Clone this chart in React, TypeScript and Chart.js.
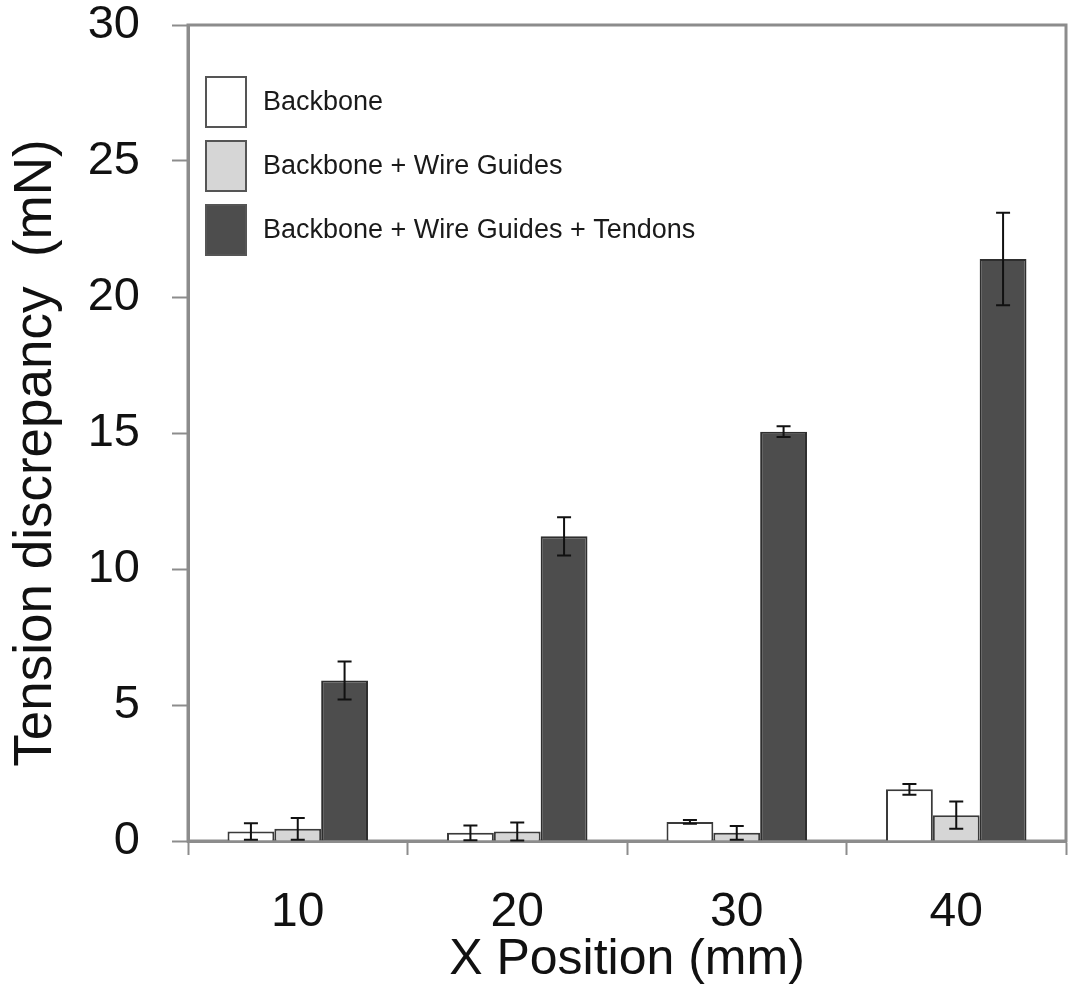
import React, { useEffect, useRef } from "react";
import { Chart, registerables } from "chart.js";

Chart.register(...registerables);

const categories = ["10", "20", "30", "40"];
const seriesLabels = [
  "Backbone",
  "Backbone + Wire Guides",
  "Backbone + Wire Guides + Tendons",
];
const backbone = [0.35, 0.3, 0.7, 1.9];
const backboneErr = [0.3, 0.27, 0.07, 0.2];
const wireGuides = [0.45, 0.35, 0.3, 0.95];
const wireGuidesErr = [0.4, 0.33, 0.25, 0.5];
const tendons = [5.9, 11.2, 15.05, 21.4];
const tendonsErr = [0.7, 0.7, 0.2, 1.7];
const yTicks = [0, 5, 10, 15, 20, 25, 30];
const yTitle = "Tension discrepancy  (mN)";
const xTitle = "X Position (mm)";

const FONT = "'Liberation Sans', Arial, sans-serif";
const FRAME = "#8c8c8c";

const errorBarPlugin = {
  id: "errorBars",
  afterDatasetsDraw(chart: any) {
    const ctx = chart.ctx;
    const y = chart.scales.y;
    chart.data.datasets.forEach((ds: any, i: number) => {
      const meta = chart.getDatasetMeta(i);
      meta.data.forEach((el: any, j: number) => {
        const v = ds.data[j];
        const e = ds.errors[j];
        const top = y.getPixelForValue(v + e);
        const bot = y.getPixelForValue(Math.max(0, v - e));
        ctx.save();
        ctx.strokeStyle = "#111";
        ctx.lineWidth = 2;
        ctx.beginPath();
        ctx.moveTo(el.x, top);
        ctx.lineTo(el.x, bot);
        ctx.moveTo(el.x - 7, top);
        ctx.lineTo(el.x + 7, top);
        ctx.moveTo(el.x - 7, bot);
        ctx.lineTo(el.x + 7, bot);
        ctx.stroke();
        ctx.restore();
      });
    });
  },
};

const framePlugin = {
  id: "frame",
  beforeDatasetsDraw(chart: any) {
    const { left, right, top, bottom } = chart.chartArea;
    const ctx = chart.ctx;
    ctx.save();
    ctx.strokeStyle = FRAME;
    ctx.lineWidth = 3;
    ctx.strokeRect(left, top, right - left, bottom - top);
    ctx.restore();
  },
};

const yTitlePlugin = {
  id: "yTitle",
  afterDraw(chart: any) {
    const ctx = chart.ctx;
    ctx.save();
    ctx.translate(36, 453);
    ctx.rotate(-Math.PI / 2);
    ctx.fillStyle = "#111";
    ctx.font = `53px ${FONT}`;
    ctx.textAlign = "center";
    ctx.textBaseline = "middle";
    ctx.fillText(yTitle, 0, 0);
    ctx.restore();
  },
};

const legendPlugin = {
  id: "insideLegend",
  afterDraw(chart: any) {
    const ctx = chart.ctx;
    const { left, top } = chart.chartArea;
    ctx.save();
    chart.data.datasets.forEach((ds: any, i: number) => {
      const cy = top + 77 + i * 64;
      const bx = left + 18;
      ctx.fillStyle = ds.backgroundColor;
      ctx.fillRect(bx, cy - 25, 40, 50);
      ctx.strokeStyle = "#555";
      ctx.lineWidth = 2;
      ctx.strokeRect(bx, cy - 25, 40, 50);
      ctx.fillStyle = "#1a1a1a";
      ctx.font = `27px ${FONT}`;
      ctx.textBaseline = "middle";
      ctx.textAlign = "left";
      ctx.fillText(ds.label, bx + 57, cy + 1);
    });
    ctx.restore();
  },
};

export default function App() {
  const ref = useRef<HTMLCanvasElement>(null);
  useEffect(() => {
    document.body.style.margin = "0";
    const chart = new Chart(ref.current!, {
      type: "bar",
      data: {
        labels: categories,
        datasets: [
          {
            label: seriesLabels[0],
            data: backbone,
            errors: backboneErr,
            backgroundColor: "#ffffff",
            borderColor: "#3a3a3a",
            borderWidth: 2,
          } as any,
          {
            label: seriesLabels[1],
            data: wireGuides,
            errors: wireGuidesErr,
            backgroundColor: "#d6d6d6",
            borderColor: "#3a3a3a",
            borderWidth: 2,
          } as any,
          {
            label: seriesLabels[2],
            data: tendons,
            errors: tendonsErr,
            backgroundColor: "#4d4d4d",
            borderColor: "#2e2e2e",
            borderWidth: 2,
          } as any,
        ],
      },
      options: {
        responsive: false,
        animation: false,
        datasets: { bar: { categoryPercentage: 0.64, barPercentage: 1 } },
        layout: { padding: { top: 25, right: 3, left: 0, bottom: 0 } },
        plugins: { legend: { display: false }, tooltip: { enabled: false } },
        scales: {
          x: {
            grid: {
              display: true,
              drawOnChartArea: false,
              tickLength: 14,
              tickColor: FRAME,
              tickWidth: 2,
              offset: true,
            },
            border: { display: true, color: FRAME, width: 3 },
            ticks: {
              color: "#111",
              font: { family: FONT, size: 48 },
              padding: 29,
            },
            title: {
              display: true,
              text: xTitle,
              color: "#111",
              font: { family: FONT, size: 50 },
              padding: { top: 0, bottom: 8 },
            },
            afterFit(scale: any) {
              scale.height = 157;
              scale.paddingLeft = 0;
              scale.paddingRight = 0;
            },
          },
          y: {
            min: 0,
            max: 30,
            afterBuildTicks(scale: any) {
              scale.ticks = yTicks.map((v) => ({ value: v }));
            },
            grid: {
              display: true,
              drawOnChartArea: false,
              tickLength: 16,
              tickColor: FRAME,
              tickWidth: 2,
            },
            border: { display: true, color: FRAME, width: 3 },
            ticks: {
              color: "#111",
              font: { family: FONT, size: 47 },
              padding: 32,
            },
            title: { display: false },
            afterFit(scale: any) {
              scale.width = 188;
              scale.paddingTop = 0;
              scale.paddingBottom = 0;
            },
          },
        },
      } as any,
      plugins: [framePlugin, errorBarPlugin, legendPlugin, yTitlePlugin],
    });
    return () => chart.destroy();
  }, []);
  return (
    <div style={{ width: 1069, height: 998 }}>
      <canvas ref={ref} width={1069} height={998} />
    </div>
  );
}
